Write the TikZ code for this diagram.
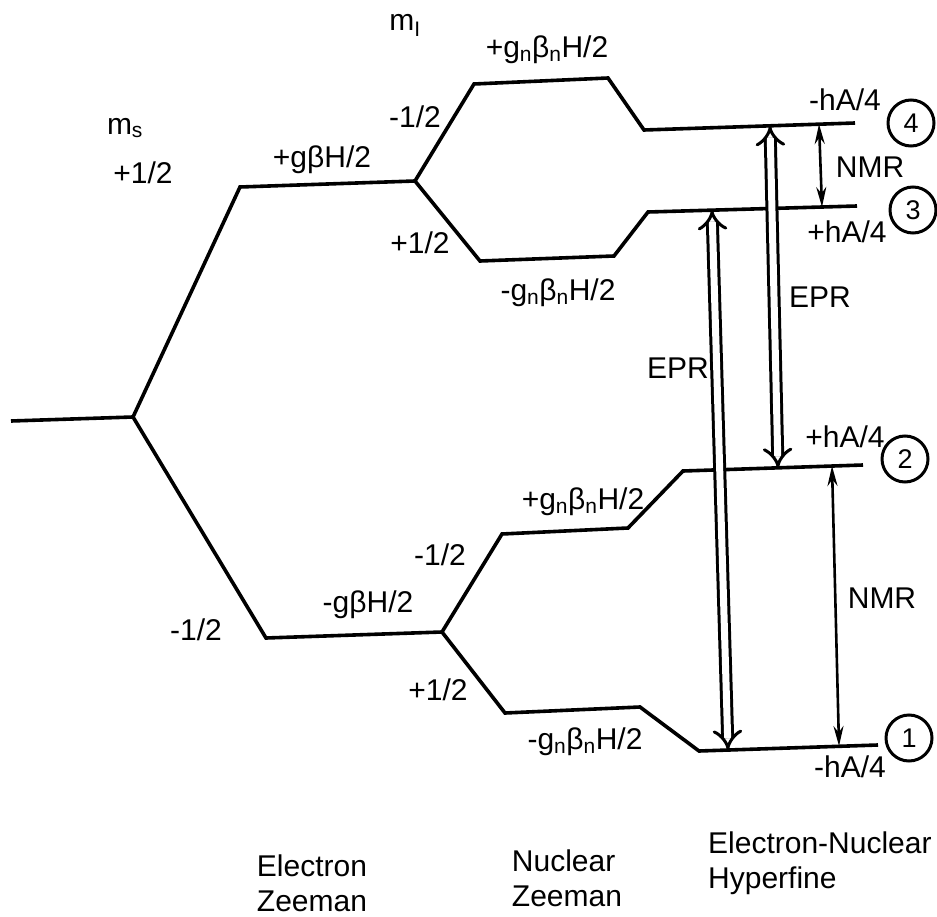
\documentclass[tikz,border=0pt]{standalone}
\usepackage{fontspec}
\setmainfont{Liberation Sans}
\usetikzlibrary{arrows.meta}
\newcommand{\sbn}{\textsubscript{n}}
\begin{document}
\begin{tikzpicture}[x=1pt,y=-1pt,
  lvl/.style={line width=3.6pt, line join=miter},
  lbl/.style={font=\fontsize{30}{35}\selectfont, inner sep=0pt},
  num/.style={draw, circle, line width=3pt, minimum size=46pt, inner sep=0pt, font=\fontsize{27}{27}\selectfont},
  epr/.style={double, double distance=7pt, line width=3pt, {Implies}-{Implies}},
  nmr/.style={line width=2.6pt, {Stealth[length=20pt,width=10pt]}-{Stealth[length=20pt,width=10pt]}}]
\useasboundingbox (0,0) rectangle (937,917);
% fork points and level ends
\coordinate (L0) at (11,421);
\coordinate (F0) at (133,417);
\coordinate (Fu) at (415,181);
\coordinate (Fd) at (442,632);
\coordinate (E4) at (855,123);
\coordinate (E3) at (857,206);
\coordinate (E2) at (863,465);
\coordinate (E1) at (878,745);
% levels
\draw[lvl] (L0) -- (F0);
\draw[lvl] (F0) -- (240,187) -- (Fu);
\draw[lvl] (F0) -- (266,638) -- (Fd);
\draw[lvl] (Fu) -- (474,84) -- (608,78) -- (644,130) -- (E4);
\draw[lvl] (Fu) -- (480,261) -- (614,256) -- (648,212) -- (E3);
\draw[lvl] (Fd) -- (502,534) -- (628,528) -- (683,471) -- (E2);
\draw[lvl] (Fd) -- (505,713) -- (640,707) -- (699,751) -- (E1);
% transition end points
\coordinate (a3) at (712,210);
\coordinate (a1) at (728,750);
\coordinate (b4) at (770,126);
\coordinate (b2) at (778,468);
\coordinate (n4) at (819,124);
\coordinate (n3) at (822,207);
\coordinate (n2) at (832,466);
\coordinate (n1) at (839,746);
\draw[epr] (a3) -- (a1);
\draw[epr] (b4) -- (b2);
\draw[nmr] (n4) -- (n3);
\draw[nmr] (n2) -- (n1);
% state numbers
\node[num] (c4) at (911,123) {4};
\node[num] (c3) at (913,210) {3};
\node[num] (c2) at (905,459) {2};
\node[num] (c1) at (909,738) {1};
% labels
\node[lbl] (mI) at (405,25) {m\textsubscript{I}};
\node[lbl] (ms) at (125,128) {m\textsubscript{s}};
\node[lbl] (ph) at (143,173) {+1/2};
\node[lbl] (eu) at (322,160) {+gβH/2};
\node[lbl] (nu1) at (415,117) {-1/2};
\node[lbl] (nu2) at (420,243) {+1/2};
\node[lbl] (zu1) at (547,50) {+g\sbn β\sbn H/2};
\node[lbl] (zu2) at (558,293) {-g\sbn β\sbn H/2};
\node[lbl] (h4) at (845,100) {-hA/4};
\node[lbl] (h3) at (847,232) {+hA/4};
\node[lbl] (nmrA) at (870,167) {NMR};
\node[lbl] (eprB) at (820,297) {EPR};
\node[lbl] (eprA) at (678,368) {EPR};
\node[lbl] (h2) at (845,437) {+hA/4};
\node[lbl] (mh) at (196,630) {-1/2};
\node[lbl] (ed) at (368,605) {-gβH/2};
\node[lbl] (nd1) at (440,555) {-1/2};
\node[lbl] (nd2) at (438,690) {+1/2};
\node[lbl] (zd1) at (583,502) {+g\sbn β\sbn H/2};
\node[lbl] (zd2) at (585,742) {-g\sbn β\sbn H/2};
\node[lbl] (nmrB) at (882,598) {NMR};
\node[lbl] (h1) at (850,767) {-hA/4};
\node[lbl, align=left] (t1) at (312,883) {Electron\\Zeeman};
\node[lbl, align=left] (t2) at (567,878) {Nuclear\\Zeeman};
\node[lbl, align=left, anchor=west] (t3) at (708,863) {Electron-Nuclear\\Hyperfine};
\end{tikzpicture}
\end{document}
